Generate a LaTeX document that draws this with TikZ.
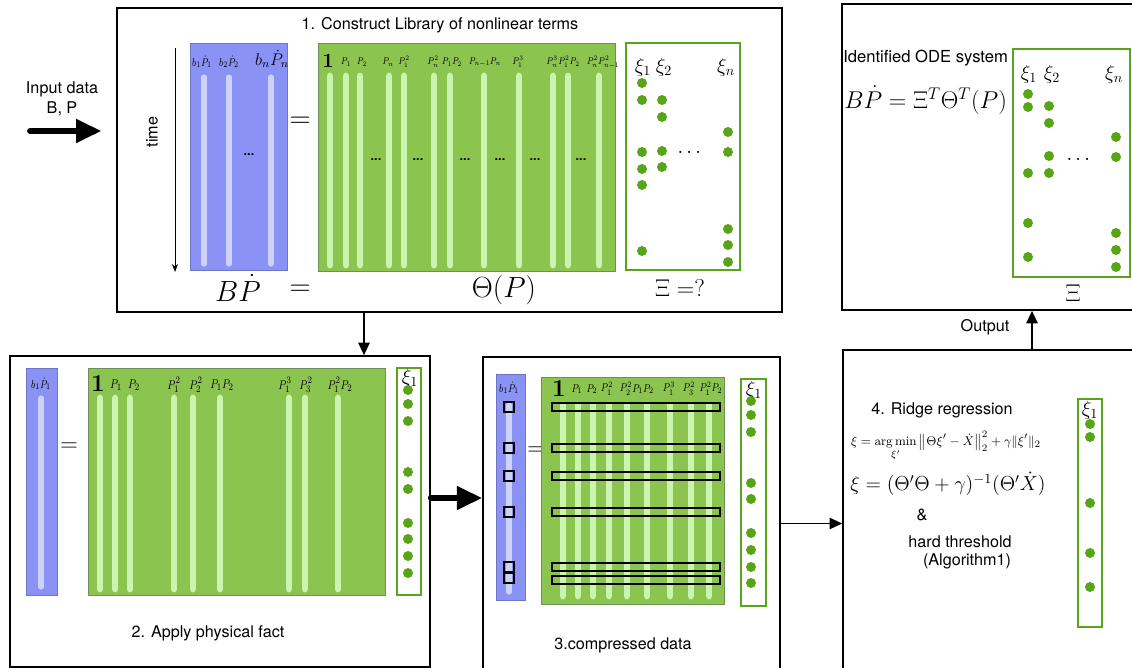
\documentclass[tikz,border=0pt]{standalone}
\usepackage{amsmath,amssymb}
\usepackage{graphicx}
\usepackage[no-math]{fontspec}
\setmainfont{TeX Gyre Heros}
\usepackage{tikz}
\usetikzlibrary{arrows.meta, fit}
\definecolor{blueblock}{HTML}{8A93F5}
\definecolor{bluestripe}{HTML}{CDD3F8}
\definecolor{libgreen}{HTML}{8BC44F}
\definecolor{libedge}{HTML}{6F8F58}
\definecolor{libstripe}{HTML}{C9F5B1}
\definecolor{coefgreen}{HTML}{58A618}
\newcommand{\fs}[1]{\fontsize{#1}{#1}\selectfont}
\newcommand{\term}[1]{\scalebox{0.8}[1]{$#1$}}

\begin{document}
\begin{tikzpicture}[x=0.025cm, y=-0.025cm, font=\fs{11.5}, >=Stealth,
  panel/.style={draw, line width=1.1pt, inner sep=0pt},
  blueblk/.style={fill=blueblock, draw=blueblock!80!black, line width=0.3pt},
  libblk/.style={fill=libgreen, draw=libedge, line width=0.5pt},
  lstripe/.style={libstripe, line width=4.8pt, line cap=round},
  bstripe/.style={bluestripe, line width=3.6pt, line cap=round},
  coefbox/.style={draw=coefgreen, line width=2.1pt},
  thinbox/.style={draw=coefgreen, line width=1.3pt},
  coef/.style={coefgreen},
  lab/.style={inner sep=0pt, font=\fs{8}},
  fatarrow/.style={line width=4.2pt, line cap=round, -{Triangle[length=18pt, width=16pt]}},
  thinarrow/.style={line width=1.6pt, -{Triangle[length=9pt, width=8pt]}}]
  \clip (0,0) rectangle (1132,668);

  % the five stages
  \node[panel, fit={(117,8) (782,312)}] (lib) {};
  \node[panel, fit={(842,4) (1150,310)}] (ode) {};
  \node[panel, fit={(10,356) (430,667)}] (phys) {};
  \node[panel, fit={(483,357) (780,690)}] (comp) {};
  \node[panel, fit={(843,350) (1150,690)}] (ridge) {};

  \node[align=center, inner sep=0pt, font=\fontsize{11.5}{14}\selectfont] (input) at (62,99) {Input data\\B, P};
  \coordinate (src) at (30,131);
  \draw[fatarrow, shorten >=10.5pt] (src) -- (src -| lib.west);

  % 1. library
  \node at (440,25) {1. Construct Library of nonlinear terms};
  \node[rotate=90] at (152,132) {time};
  \draw[->, line width=0.6pt] (175,48) -- (175,272);
  \fill[blueblk] (190,43) rectangle (287,270);
  \foreach \x in {204,229,271} \draw[bstripe] (\x,77) -- (\x,264);
  \node[lab] at (202,62) {\term{b_1\dot P_1}};
  \node[lab] at (229,62) {\term{b_2\dot P_2}};
  \node[lab, font=\fs{12}] at (272,59) {$b_n\dot P_n$};
  \node[font=\bfseries\fs{9}] at (249,155) {...};
  \node[font=\fs{20}] at (300,122) {$=$};
  \node[font=\fs{22}] at (238,288) {$B\dot P$};
  \node[font=\fs{20}] at (300,290) {$=$};

  \fill[libblk] (318,43) rectangle (615,271);
  \foreach \x in {330,346,360,389,404,434,450,484,519,553,568,599}
    \draw[lstripe] (\x,76) -- (\x,265);
  \node[lab, font=\fs{15}] at (328,61) {$\mathbf{1}$};
  \foreach \x/\t in {346/P_1, 362/P_2, 388/P_n, 404/P_1^2, 433/P_n^2, 452/P_1P_2,
      485/P_{n-1}P_n, 518/P_1^3, 552/P_n^3, 569/P_1^2P_2, 603/P_n^2P_{n-1}^2}
    \node[lab, font=\fs{7}] at (\x,62) {\term{\t}};
  \foreach \x in {376,418,465,500,535,581}
    \node[font=\bfseries\fs{9}] at (\x,160) {...};
  \node[font=\fs{22}] at (504,290) {$\Theta(P)$};

  \draw[coefbox] (626,43) rectangle (740,270);
  \node[font=\fs{14}] at (643,67) {$\xi_1$};
  \node[font=\fs{14}] at (664,67) {$\xi_2$};
  \node[font=\fs{14}] at (726,67) {$\xi_n$};
  \foreach \x/\y in {642/83,642/100,642/152,642/169,642/185,642/251,
      662/100,662/117,662/151,662/167,
      728/132,728/152,728/229,728/245,728/262}
    \fill[coef] (\x,\y) circle[radius=5];
  \node[font=\fs{14}] at (691,153) {$\cdots$};
  \node[font=\fs{18}] at (680,288) {$\Xi=?$};

  % identified system
  \node[anchor=west, inner sep=0pt, font=\fs{11.8}] at (843,58) {Identified ODE system};
  \node[anchor=west, inner sep=0pt, font=\fs{18}] at (844,100) {$B\dot P=\Xi^T\Theta^T(P)$};
  \draw[coefbox] (1013,49) rectangle (1130,277);
  \node[font=\fs{14}] at (1029,74) {$\xi_1$};
  \node[font=\fs{14}] at (1052,74) {$\xi_2$};
  \node[font=\fs{14}] at (1114,74) {$\xi_n$};
  \foreach \x/\y in {1028/94,1028/107,1028/173,1028/223,1028/257,
      1049/106,1049/123,1049/156,1049/173,
      1116/137,1116/157,1116/233,1116/250,1116/267}
    \fill[coef] (\x,\y) circle[radius=5];
  \node[font=\fs{14}] at (1080,160) {$\cdots$};
  \node[font=\fs{18}] at (1073,293) {$\Xi$};

  \coordinate (down) at (364,0);
  \draw[thinarrow] (lib.south -| down) -- (phys.north -| down);
  \coordinate (up) at (1032,0);
  \draw[thinarrow] (ridge.north -| up) -- (ode.south -| up);
  \node at (985,327) {Output};

  % 2. physical fact
  \fill[blueblk] (26,368) rectangle (57,595);
  \draw[bstripe] (41,398) -- (41,587);
  \node[lab] at (41,384) {\term{b_1\dot P_1}};
  \node[font=\fs{16}] at (69,447) {$=$};
  \fill[libblk] (88,368) rectangle (385,595);
  \foreach \x in {100,115,130,174,193,220,289,305,338}
    \draw[lstripe] (\x,398) -- (\x,589);
  \node[lab, font=\fs{19}] at (98,384) {$\mathbf{1}$};
  \foreach \x/\t in {116/P_1, 134/P_2, 174/P_1^2, 196/P_2^2, 222/P_1P_2,
      285/P_1^3, 306/P_3^2, 340/P_1^2P_2}
    \node[lab, font=\fs{9.5}] at (\x,385) {\term{\t}};
  \draw[thinbox] (397,368) rectangle (421,595);
  \node[font=\fs{14}] at (410,378) {$\xi_1$};
  \foreach \y in {390,404,421,472,489,523,539,556,573}
    \fill[coef] (408,\y) circle[radius=5];
  \node at (208,633) {2. Apply physical fact};

  \coordinate (mid) at (0,498);
  \draw[fatarrow] (phys.east |- mid) -- (comp.west |- mid);

  % 3. compressed data
  \fill[blueblk] (496,374) rectangle (525,600);
  \draw[bstripe] (509,405) -- (509,592);
  \node[lab] at (509,388) {\term{b_1\dot P_1}};
  \foreach \y in {407,448,476,512,567,578}
    \draw[line width=0.8pt] (504,\y-5) rectangle (514,\y+5);
  \node[font=\fs{16}] at (536,451) {$=$};
  \fill[libblk] (541,377) rectangle (724,604);
  \foreach \x in {563,578,593,609,627,647,670,691,709}
    \draw[lstripe] (\x,405) -- (\x,596);
  \node[lab, font=\fs{17}] at (559,389) {$\mathbf{1}$};
  \foreach \x/\t in {577/P_1, 592/P_2, 607/P_1^2, 626/P_2^2, 643/P_1P_2,
      669/P_1^3, 689/P_3^2, 711/P_1^2P_2}
    \node[lab, font=\fs{8.5}] at (\x,389) {\term{\t}};
  \foreach \y in {407,448,476,512,567,580}
    \draw[line width=1.1pt] (552,\y-4) rectangle (720,\y+4);
  \draw[thinbox] (741,379) rectangle (766,606);
  \node[font=\fs{14}] at (754,390) {$\xi_1$};
  \foreach \y in {401,415,432,483,499,533,550,567,583}
    \fill[coef] (751,\y) circle[radius=5];
  \node at (623,645) {3.compressed data};

  \draw[thinarrow, line width=1.3pt] (comp.east) -- (comp.east -| ridge.west);

  % 4. ridge regression
  \node at (942,410) {4. Ridge regression};
  \node[font=\fs{9.3}] at (946,446)
    {$\displaystyle\xi=\operatorname*{arg\,min}_{\xi'}\left\|\Theta\xi'-\dot X\right\|_2^2+\gamma\|\xi'\|_2$};
  \node[font=\fs{14}] at (948,484) {$\xi=(\Theta'\Theta+\gamma)^{-1}(\Theta'\dot X)$};
  \node at (922,515) {\&};
  \node at (960,542) {hard threshold};
  \node at (967,561) {(Algorithm1)};
  \draw[thinbox, line width=2pt] (1078,399) rectangle (1102,627);
  \node[font=\fs{14}] at (1090,410) {$\xi_1$};
  \foreach \y in {424,437,503,553,587}
    \fill[coef] (1090,\y) circle[radius=5];
\end{tikzpicture}
\end{document}
